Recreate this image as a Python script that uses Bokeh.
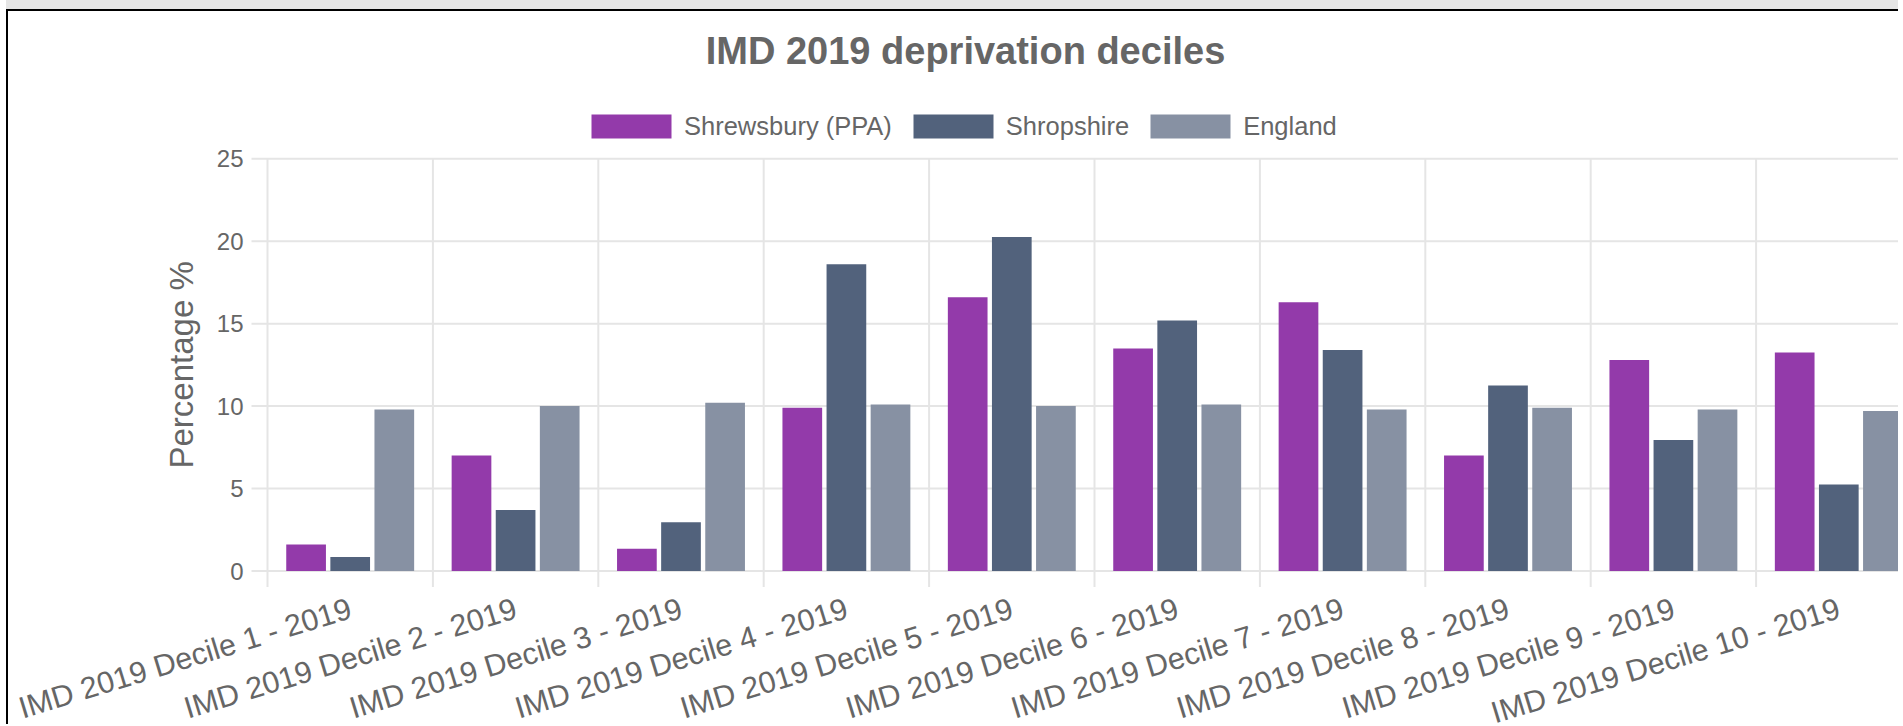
import math
import numpy as np
from bokeh.plotting import figure
from bokeh.models import (Range1d, Legend, LegendItem, Label, LabelSet,
                          ColumnDataSource)
from bokeh.core.properties import value
from bokeh.embed import file_html
from bokeh.resources import INLINE

# ---------------- data ----------------
categories = [
    "IMD 2019 Decile 1 - 2019", "IMD 2019 Decile 2 - 2019",
    "IMD 2019 Decile 3 - 2019", "IMD 2019 Decile 4 - 2019",
    "IMD 2019 Decile 5 - 2019", "IMD 2019 Decile 6 - 2019",
    "IMD 2019 Decile 7 - 2019", "IMD 2019 Decile 8 - 2019",
    "IMD 2019 Decile 9 - 2019", "IMD 2019 Decile 10 - 2019",
]
shrewsbury = [1.6, 7.0, 1.35, 9.9, 16.6, 13.5, 16.3, 7.0, 12.8, 13.25]
shropshire = [0.85, 3.7, 2.95, 18.6, 20.25, 15.2, 13.4, 11.25, 7.95, 5.25]
england = [9.8, 10.0, 10.2, 10.1, 10.0, 10.1, 9.8, 9.9, 9.8, 9.7]
series_names = ["Shrewsbury (PPA)", "Shropshire", "England"]
y_ticks = [0, 5, 10, 15, 20, 25]
y_tick_labels = ["0", "5", "10", "15", "20", "25"]
title_text = "IMD 2019 deprivation deciles"
y_title = "Percentage %"

# ---------------- style / layout ----------------
colors = ["#933aaa", "#52627c", "#8791a3"]
FONT = "Liberation Sans"
TXT = "#666666"
GRID = "#e5e5e5"
W, H = 1892, 715
ZERO_X = 259              # canvas x of the value axis
ZERO_Y = 559.5            # canvas y of the zero line
CAT_PX = 165.4            # pixel width of one category
PX_AXIS = 412.2           # pixel height of the 0..25 value axis
TICK_LEN = 16             # px length of the grid ticks outside the plot area
y_max = max(y_ticks)
ppu = PX_AXIS / y_max
x_start = -ZERO_X / CAT_PX
x_end = (W - ZERO_X) / CAT_PX
y_top = ZERO_Y / ppu
y_bottom = -(H - ZERO_Y) / ppu

p = figure(width=W, height=H, x_range=Range1d(x_start, x_end),
           y_range=Range1d(y_bottom, y_top),
           x_axis_location=None, y_axis_location=None,
           output_backend="svg", toolbar_location=None, title=None,
           min_border=0)
p.outline_line_color = None
p.background_fill_color = "white"
p.border_fill_color = "white"
p.xgrid.visible = False
p.ygrid.visible = False
p.styles = {"margin-left": "6px", "margin-top": "9px",
            "border-left": "2px solid #000", "border-top": "2px solid #000",
            "box-shadow": "0 -9px 0 0 #e5e5e5"}

n = len(categories)
centers = np.arange(n) + 0.5
bounds = list(range(n + 1))
tick_dx = TICK_LEN / CAT_PX
tick_dy = TICK_LEN / ppu

# grid: vertical lines at category boundaries, horizontal at value ticks,
# each continuing as a short tick outside the plot area
p.segment(x0=bounds, y0=[-tick_dy] * len(bounds), x1=bounds,
          y1=[y_max] * len(bounds), line_color=GRID, line_width=2,
          level="underlay")
p.segment(x0=[-tick_dx] * len(y_ticks), y0=y_ticks, x1=[n] * len(y_ticks),
          y1=y_ticks, line_color=GRID, line_width=2, level="underlay")

slot = 0.8 / 3
offsets = [-slot, 0.0, slot]
renderers = []
for vals, off, col in zip([shrewsbury, shropshire, england], offsets, colors):
    src = ColumnDataSource(dict(x=centers + off, top=vals))
    r = p.vbar(x="x", top="top", width=slot * 0.9, source=src,
               fill_color=col, line_color=None)
    renderers.append(r)

# category labels, rotated, anchored at their right end under each category
cat_src = ColumnDataSource(dict(x=centers, y=[0] * n, text=categories))
p.add_layout(LabelSet(x="x", y="y", text="text", source=cat_src,
                      angle=math.radians(17), text_align="right",
                      text_baseline="middle", y_offset=-36,
                      text_font=value(FONT), text_font_size="30.5px",
                      text_color=TXT))

# value tick labels
val_src = ColumnDataSource(dict(x=[0] * len(y_ticks), y=y_ticks, text=y_tick_labels))
p.add_layout(LabelSet(x="x", y="y", text="text", source=val_src,
                      text_align="right", text_baseline="middle",
                      x_offset=-(TICK_LEN + 8),
                      text_font=value(FONT), text_font_size="24px",
                      text_color=TXT))

# value axis title
p.add_layout(Label(x=173, y=(min(y_ticks) + max(y_ticks)) / 2,
                   x_units="screen", y_units="data", text=y_title,
                   angle=math.pi / 2, text_align="center",
                   text_baseline="middle", text_font=FONT,
                   text_font_size="33px", text_color=TXT))

legend = Legend(items=[LegendItem(label=nm, renderers=[r])
                       for nm, r in zip(series_names, renderers)],
                orientation="horizontal", location=(ZERO_X + 314, H - 130),
                glyph_width=100, glyph_height=30, label_standoff=3,
                spacing=11, padding=0, margin=0, label_height=30,
                border_line_color=None, background_fill_alpha=0,
                label_text_font=FONT, label_text_font_size="25.5px",
                label_text_color=TXT)
p.add_layout(legend, "center")

p.add_layout(Label(x=ZERO_X + 698, y=H - 39.5, x_units="screen",
                   y_units="screen", text=title_text, text_align="center",
                   text_baseline="middle", text_font=FONT,
                   text_font_size="38px", text_font_style="bold",
                   text_color=TXT))

open("out.html", "w").write(file_html(p, INLINE))
